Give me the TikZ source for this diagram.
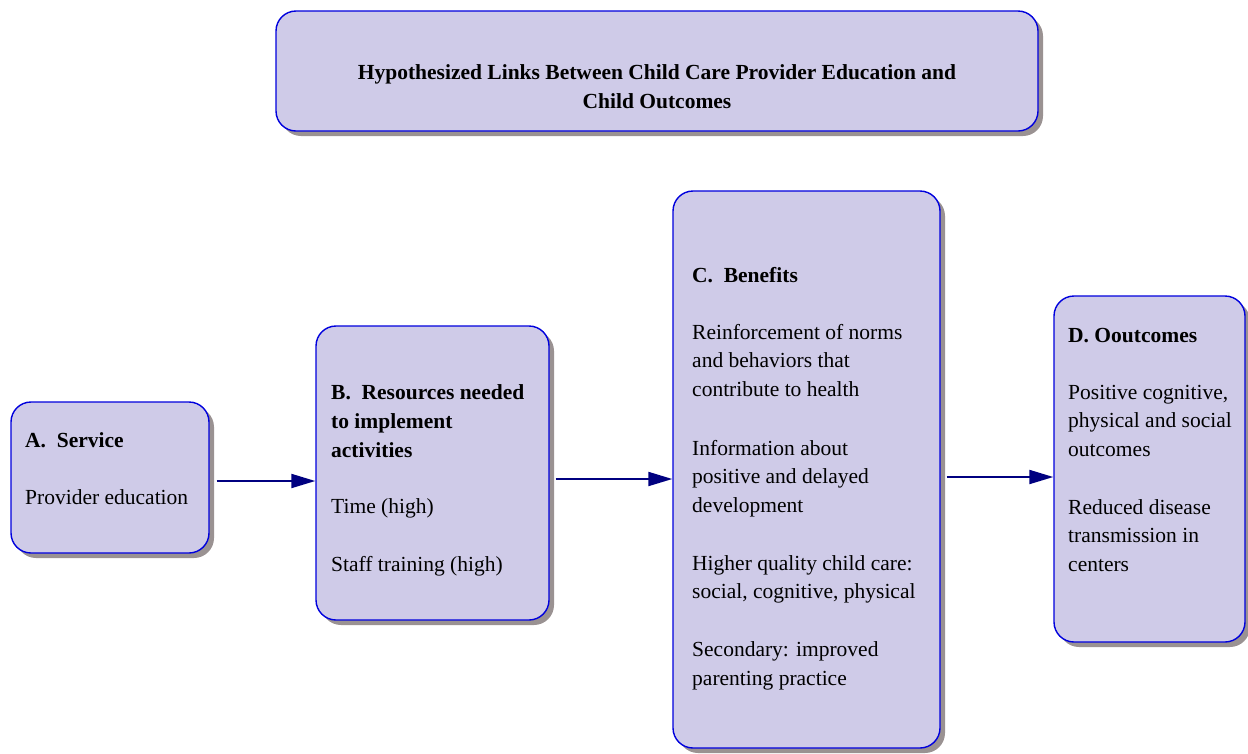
\documentclass[tikz,border=0pt]{standalone}
\usepackage{fontspec}
\setmainfont{Liberation Serif}
\usetikzlibrary{shadows,arrows.meta,calc}
\definecolor{boxfill}{HTML}{CFCBE8}
\definecolor{boxline}{HTML}{0000DD}
\definecolor{arrline}{HTML}{000080}
\definecolor{shadowgray}{HTML}{9A9292}
\tikzset{
  panel/.style={draw=boxline, line width=1.4pt, fill=boxfill, rounded corners=20pt,
    drop shadow={shadow xshift=5pt, shadow yshift=-5pt, fill=shadowgray, opacity=1},
    inner sep=0pt},
  txt/.style={anchor=north west, align=left, inner sep=0pt, font=\fontsize{21.5}{28.5}\selectfont},
  ttl/.style={align=center, inner sep=0pt, font=\fontsize{21.5}{29}\selectfont\bfseries},
  arr/.style={draw=arrline, line width=2pt, -{Triangle[length=24pt,width=14pt]}}
}
\begin{document}
\begin{tikzpicture}[x=1pt,y=-1pt]
\useasboundingbox (0,0) rectangle (1248,753);
% boxes
\node[panel, minimum width=762pt, minimum height=120pt] (T) at (657,71) {};
\node[panel, minimum width=198pt, minimum height=151pt] (A) at (110,477.5) {};
\node[panel, minimum width=233pt, minimum height=294pt] (B) at (432.5,473) {};
\node[panel, minimum width=267pt, minimum height=557pt] (C) at (806.5,469.5) {};
\node[panel, minimum width=191pt, minimum height=346pt] (D) at (1149.5,469) {};
% texts
\node[ttl] (Tt) at (657,87) {Hypothesized Links Between Child Care Provider Education and\\Child Outcomes};
\node[txt] (At) at (25,432) {\textbf{A.\ \ Service}\\[28.5pt]Provider education};
\node[txt] (Bt) at (331,384) {\textbf{B.\ \ Resources needed}\\[1pt]\textbf{to implement}\\[0.5pt]\textbf{activities}\\[27.5pt]Time (high)\\[29.5pt]Staff training (high)};
\node[txt] (Ct) at (692,267) {\textbf{C.\ \ Benefits}\\[28.5pt]Reinforcement of norms\\and behaviors that\\contribute to health\\[30.5pt]Information about\\positive and delayed\\development\\[29.5pt]Higher quality child care:\\social, cognitive, physical\\[29.5pt]Secondary: improved\\parenting practice};
\node[txt] (Dt) at (1068,328) {\textbf{D. Ooutcomes}\\[28.5pt]Positive cognitive,\\physical and social\\outcomes\\[29.5pt]Reduced disease\\transmission in\\centers};
% arrows
\coordinate (a1) at ($(A.east)+(7,3.5)$);
\coordinate (b1) at ($(B.east)+(6,6)$);
\coordinate (c1) at ($(C.east)+(6,7.5)$);
\draw[arr] (a1) -- (a1 -| B.west);
\draw[arr] (b1) -- (b1 -| C.west);
\draw[arr] (c1) -- (c1 -| D.west);
\end{tikzpicture}
\end{document}
